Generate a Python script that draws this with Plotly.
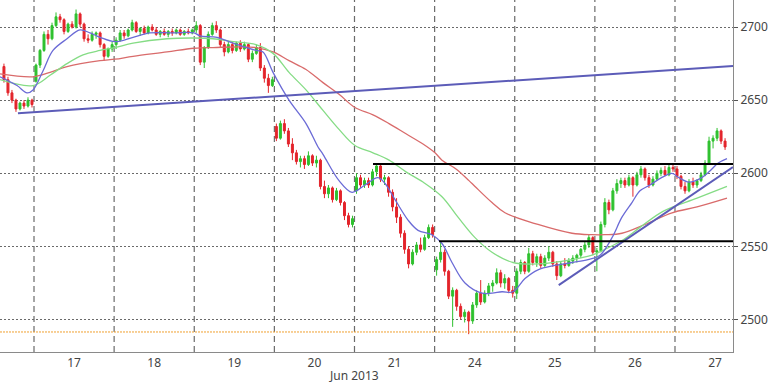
import plotly.graph_objects as go

# ---------------- data ----------------
day_labels = ["16", "17", "18", "19", "20", "21", "24", "25", "26", "27"]
slots_per_day = 20
first_day_first_slot = 12      # day 16 only partly visible
last_day_slots = 13            # day 27 partly traded

opens = [
    # 16
    2673, 2664, 2655, 2650, 2644, 2648, 2646, 2650,
    # 17
    2663, 2674, 2684, 2695, 2692, 2701, 2707, 2705, 2697, 2702, 2700, 2709, 2702, 2692, 2691, 2695, 2696, 2688, 2680, 2685,
    # 18
    2688, 2691, 2696, 2694, 2698, 2703, 2697, 2699, 2696, 2700, 2698, 2695, 2697, 2695, 2697, 2696, 2698, 2695, 2697, 2696,
    # 19
    2698, 2701, 2676, 2686, 2695, 2701, 2698, 2688, 2683, 2688, 2684, 2689, 2685, 2688, 2678, 2682, 2686, 2672, 2665, 2660,
    # 20
    2632, 2624, 2634, 2629, 2620, 2614, 2608, 2610, 2606, 2612, 2607, 2609, 2591, 2586, 2590, 2582, 2588, 2580, 2571, 2565,
    # 21
    2588, 2597, 2592, 2595, 2592, 2601, 2605, 2596, 2597, 2587, 2577, 2570, 2559, 2548, 2538, 2546, 2551, 2548, 2556, 2563,
    # 24
    2534, 2541, 2546, 2533, 2516, 2520, 2509, 2502, 2505, 2499, 2510, 2518, 2512, 2518, 2523, 2525, 2532, 2525, 2528, 2520,
    # 25
    2518, 2533, 2539, 2533, 2545, 2539, 2543, 2537, 2542, 2546, 2538, 2530, 2538, 2537, 2540, 2542, 2544, 2548, 2551, 2556,
    # 26
    2546, 2547, 2565, 2580, 2575, 2588, 2593, 2595, 2592, 2597, 2592, 2599, 2603, 2597, 2592, 2596, 2600, 2602, 2599, 2604,
    # 27
    2603, 2598, 2591, 2588, 2594, 2592, 2595, 2599, 2607, 2622, 2624, 2629, 2622,
]
highs = [
    2675, 2666, 2657, 2651, 2649, 2650, 2652, 2651,
    2675, 2685, 2697, 2698, 2703, 2710, 2709, 2706, 2703, 2704, 2712, 2710, 2703, 2695, 2697, 2697, 2697, 2689, 2686, 2690,
    2693, 2698, 2698, 2699, 2705, 2704, 2700, 2701, 2701, 2702, 2700, 2698, 2699, 2698, 2699, 2699, 2699, 2698, 2699, 2699,
    2704, 2702, 2687, 2697, 2703, 2704, 2699, 2690, 2690, 2690, 2690, 2691, 2690, 2689, 2684, 2688, 2689, 2674, 2668, 2666,
    2634, 2636, 2637, 2631, 2624, 2616, 2612, 2612, 2615, 2613, 2612, 2610, 2595, 2592, 2591, 2590, 2589, 2581, 2573, 2571,
    2600, 2599, 2597, 2597, 2603, 2607, 2606, 2599, 2598, 2589, 2583, 2572, 2561, 2550, 2548, 2553, 2556, 2558, 2565, 2565,
    2543, 2553, 2548, 2534, 2522, 2521, 2511, 2507, 2506, 2512, 2520, 2527, 2520, 2525, 2527, 2535, 2534, 2531, 2529, 2523,
    2535, 2541, 2540, 2549, 2547, 2545, 2545, 2544, 2550, 2547, 2540, 2540, 2542, 2542, 2544, 2545, 2549, 2553, 2558, 2557,
    2549, 2567, 2583, 2582, 2590, 2596, 2597, 2597, 2599, 2598, 2601, 2605, 2604, 2599, 2598, 2602, 2604, 2605, 2606, 2607,
    2605, 2599, 2594, 2596, 2597, 2596, 2601, 2609, 2625, 2626, 2631, 2630, 2624,
]
lows = [
    2662, 2653, 2648, 2642, 2643, 2644, 2645, 2645,
    2662, 2672, 2683, 2688, 2691, 2700, 2703, 2695, 2696, 2699, 2699, 2700, 2690, 2689, 2690, 2692, 2686, 2677, 2679, 2683,
    2685, 2690, 2692, 2693, 2697, 2696, 2694, 2695, 2695, 2697, 2694, 2693, 2694, 2693, 2694, 2695, 2694, 2694, 2695, 2695,
    2696, 2674, 2672, 2685, 2694, 2696, 2686, 2680, 2682, 2682, 2683, 2683, 2684, 2676, 2676, 2681, 2670, 2662, 2655, 2659,
    2622, 2623, 2627, 2618, 2609, 2606, 2604, 2603, 2605, 2605, 2604, 2589, 2583, 2583, 2580, 2581, 2578, 2568, 2563, 2563,
    2586, 2590, 2590, 2590, 2591, 2598, 2594, 2592, 2584, 2574, 2566, 2556, 2545, 2535, 2537, 2544, 2546, 2547, 2555, 2556,
    2530, 2539, 2530, 2514, 2495, 2506, 2500, 2498, 2490, 2497, 2508, 2510, 2511, 2516, 2519, 2524, 2522, 2521, 2518, 2515,
    2514, 2531, 2531, 2532, 2537, 2536, 2535, 2536, 2540, 2536, 2527, 2529, 2535, 2536, 2538, 2539, 2542, 2546, 2549, 2544,
    2533, 2546, 2563, 2572, 2574, 2586, 2590, 2590, 2591, 2584, 2591, 2597, 2595, 2590, 2591, 2595, 2598, 2598, 2598, 2601,
    2596, 2589, 2586, 2587, 2590, 2590, 2594, 2598, 2606, 2617, 2622, 2620, 2616,
]
closes = [
    2664, 2655, 2650, 2644, 2648, 2646, 2650, 2647,
    2674, 2684, 2695, 2692, 2701, 2707, 2705, 2697, 2702, 2700, 2709, 2702, 2692, 2691, 2695, 2696, 2688, 2680, 2685, 2688,
    2691, 2696, 2694, 2698, 2703, 2697, 2699, 2696, 2700, 2698, 2695, 2697, 2695, 2697, 2696, 2698, 2695, 2697, 2696, 2698,
    2701, 2676, 2686, 2695, 2701, 2698, 2688, 2683, 2688, 2684, 2689, 2685, 2688, 2678, 2682, 2686, 2672, 2665, 2660, 2664,
    2624, 2634, 2629, 2620, 2614, 2608, 2610, 2606, 2612, 2607, 2609, 2591, 2586, 2590, 2582, 2588, 2580, 2571, 2565, 2569,
    2597, 2592, 2595, 2592, 2601, 2605, 2596, 2597, 2587, 2577, 2570, 2559, 2548, 2538, 2546, 2551, 2548, 2556, 2563, 2558,
    2541, 2546, 2533, 2516, 2520, 2509, 2502, 2505, 2499, 2510, 2518, 2512, 2518, 2523, 2525, 2532, 2525, 2528, 2520, 2518,
    2533, 2539, 2533, 2545, 2539, 2543, 2537, 2542, 2546, 2538, 2530, 2538, 2537, 2540, 2542, 2544, 2548, 2551, 2556, 2546,
    2547, 2565, 2580, 2575, 2588, 2593, 2595, 2592, 2597, 2592, 2599, 2603, 2597, 2592, 2596, 2600, 2602, 2599, 2604, 2603,
    2598, 2591, 2588, 2594, 2592, 2595, 2599, 2607, 2622, 2624, 2629, 2622, 2618,
]

# moving averages (time in trading-day units, 0 = start of 17th)
ma_fast_t = [-0.424, -0.212, -0.087, -0.012, 0.112, 0.237, 0.412, 0.574, 0.699, 0.824, 1.011, 1.236, 1.448,
             1.735, 1.997, 2.072, 2.284, 2.484, 2.771, 2.858, 2.983, 3.183, 3.395, 3.545, 3.607, 3.807, 3.969,
             4.131, 4.293, 4.381, 4.506, 4.668, 4.793, 4.967, 5.092, 5.217, 5.379, 5.591, 5.716, 5.841, 5.978,
             6.128, 6.290, 6.502, 6.715, 6.914, 7.064, 7.214, 7.338, 7.463, 7.563, 7.688, 7.832, 7.963, 8.050,
             8.175, 8.300, 8.425, 8.540, 8.649]
ma_fast_v = [2666, 2660, 2655, 2657, 2670, 2684, 2692, 2698, 2696, 2693, 2690, 2693, 2696,
             2696, 2696, 2694, 2693, 2689, 2684, 2683, 2669, 2650, 2634, 2618, 2613, 2595, 2587,
             2592, 2597, 2593, 2582, 2568, 2561, 2558, 2552, 2539, 2525, 2518, 2518, 2519, 2519,
             2528, 2534, 2537, 2539, 2541, 2544, 2556, 2570, 2580, 2588, 2592, 2597, 2600, 2597,
             2594, 2596, 2601, 2607, 2610]
ma_mid_t = [-0.424, -0.012, 0.2, 0.412, 0.612, 0.824, 1.011, 1.236, 1.66, 1.997, 2.234, 2.484, 2.771,
            2.983, 3.183, 3.395, 3.607, 3.807, 4.006, 4.231, 4.431, 4.643, 4.855, 5.092, 5.292, 5.504,
            5.716, 5.978, 6.290, 6.715, 6.964, 7.126, 7.338, 7.563, 7.850, 8.275, 8.649]
ma_mid_v = [2664, 2660, 2667, 2675, 2681, 2684, 2686, 2689, 2692, 2692.5, 2692, 2690, 2688,
            2682, 2669, 2657, 2643, 2630, 2619, 2614, 2609, 2601, 2594, 2584, 2570, 2556,
            2546, 2539, 2538, 2541, 2544, 2548, 2554, 2563, 2574, 2583, 2591]
ma_slow_t = [-0.424, -0.012, 0.2, 0.412, 0.824, 1.011, 1.236, 1.66, 1.997, 2.234, 2.771, 2.983, 3.183,
             3.395, 3.607, 3.807, 4.006, 4.231, 4.431, 4.643, 4.855, 5.005, 5.092, 5.267, 5.429, 5.504,
             5.716, 5.878, 6.290, 6.715, 6.964, 7.126, 7.338, 7.625, 7.963, 8.275, 8.649]
ma_slow_v = [2668, 2666, 2669, 2673, 2677, 2678, 2680, 2683, 2685.5, 2686, 2686, 2683, 2677,
             2671, 2662, 2654, 2645, 2640, 2634, 2627, 2620, 2614, 2609, 2603, 2595, 2591,
             2580, 2573, 2565, 2559, 2558, 2558, 2559, 2565, 2573, 2577, 2583]

# drawn analysis lines
trend_long_t = [-0.2, 8.724]
trend_long_v = [2641, 2673.3]
trend_up_t = [6.549, 8.724]
trend_up_v = [2523.5, 2604.3]
resistance_t = [4.231, 8.724]
resistance_v = 2606.3
support_t = [5.055, 8.724]
support_v = 2553.5
low_level_v = 2491.5

y_ticks = [2500, 2550, 2600, 2650, 2700]
period_label = "Jun 2013"

# ---------------- build ----------------
times = []
n_days = len(day_labels)
for n in range(n_days):
    k = n - 1
    if n == 0:
        slots = range(first_day_first_slot, slots_per_day)
    elif n == n_days - 1:
        slots = range(last_day_slots)
    else:
        slots = range(slots_per_day)
    for i in slots:
        times.append(k + (i + 0.5) / slots_per_day)

GREEN = "#2fc12f"
RED = "#e3242b"
FONT = "Noto Sans"

x_range = [-0.4243, 8.724]
y_range = [2477.8, 2718.5]

fig = go.Figure()
fig.add_trace(go.Candlestick(
    x=times, open=opens, high=highs, low=lows, close=closes,
    increasing=dict(line=dict(color=GREEN, width=1), fillcolor=GREEN),
    decreasing=dict(line=dict(color=RED, width=1), fillcolor=RED),
    whiskerwidth=0, showlegend=False, hoverinfo="skip",
))

fig.add_trace(go.Scatter(x=ma_slow_t, y=ma_slow_v, mode="lines", line=dict(color="#d96b6b", width=1.3, shape="spline"), showlegend=False, hoverinfo="skip"))
fig.add_trace(go.Scatter(x=ma_mid_t, y=ma_mid_v, mode="lines", line=dict(color="#85dc85", width=1.3, shape="spline"), showlegend=False, hoverinfo="skip"))
fig.add_trace(go.Scatter(x=ma_fast_t, y=ma_fast_v, mode="lines", line=dict(color="#6b6bd6", width=1.3, shape="spline"), showlegend=False, hoverinfo="skip"))

fig.add_trace(go.Scatter(x=trend_long_t, y=trend_long_v, mode="lines", line=dict(color="#5c5cb8", width=2), showlegend=False, hoverinfo="skip", cliponaxis=True))
fig.add_trace(go.Scatter(x=trend_up_t, y=trend_up_v, mode="lines", line=dict(color="#5c5cb8", width=2), showlegend=False, hoverinfo="skip"))
fig.add_trace(go.Scatter(x=resistance_t, y=[resistance_v] * 2, mode="lines", line=dict(color="#000000", width=2), showlegend=False, hoverinfo="skip"))
fig.add_trace(go.Scatter(x=support_t, y=[support_v] * 2, mode="lines", line=dict(color="#000000", width=2), showlegend=False, hoverinfo="skip"))
fig.add_trace(go.Scatter(x=x_range, y=[low_level_v] * 2, mode="lines", line=dict(color="#f0a030", width=1, dash="2px,1px"), showlegend=False, hoverinfo="skip"))

shapes = []
for k in range(0, n_days - 1):
    shapes.append(dict(type="line", xref="x", yref="paper", x0=k, x1=k, y0=0, y1=1,
                       line=dict(color="#6a6a6a", width=1.2, dash="6px,4px"), layer="below"))

fig.update_layout(
    width=768, height=384,
    margin=dict(l=0, r=35, t=0, b=32),
    paper_bgcolor="white", plot_bgcolor="white",
    shapes=shapes,
    showlegend=False,
    font=dict(family=FONT, size=12, color="#444444"),
    annotations=[dict(text=period_label, xref="x", yref="paper", x=3.99, y=-0.066,
                      showarrow=False, xanchor="center", yanchor="middle",
                      font=dict(family=FONT, size=12, color="#444444"))],
)
fig.update_xaxes(
    range=x_range, rangeslider=dict(visible=False),
    tickmode="array", tickvals=[n - 0.5 for n in range(n_days)], ticktext=day_labels,
    showgrid=False, zeroline=False, showline=True, linecolor="#8a8a8a", linewidth=1,
    ticks="", tickfont=dict(family=FONT, size=12, color="#444444"),
)
fig.update_yaxes(
    range=y_range, side="right", tickmode="array", tickvals=y_ticks,
    showgrid=True, gridcolor="#6a6a6a", gridwidth=1, griddash="2px,2px",
    zeroline=False, showline=True, linecolor="#8a8a8a", linewidth=1,
    ticks="outside", ticklen=4, tickcolor="#555555",
    tickfont=dict(family=FONT, size=12, color="#444444"),
)

fig.write_html("out.html")
